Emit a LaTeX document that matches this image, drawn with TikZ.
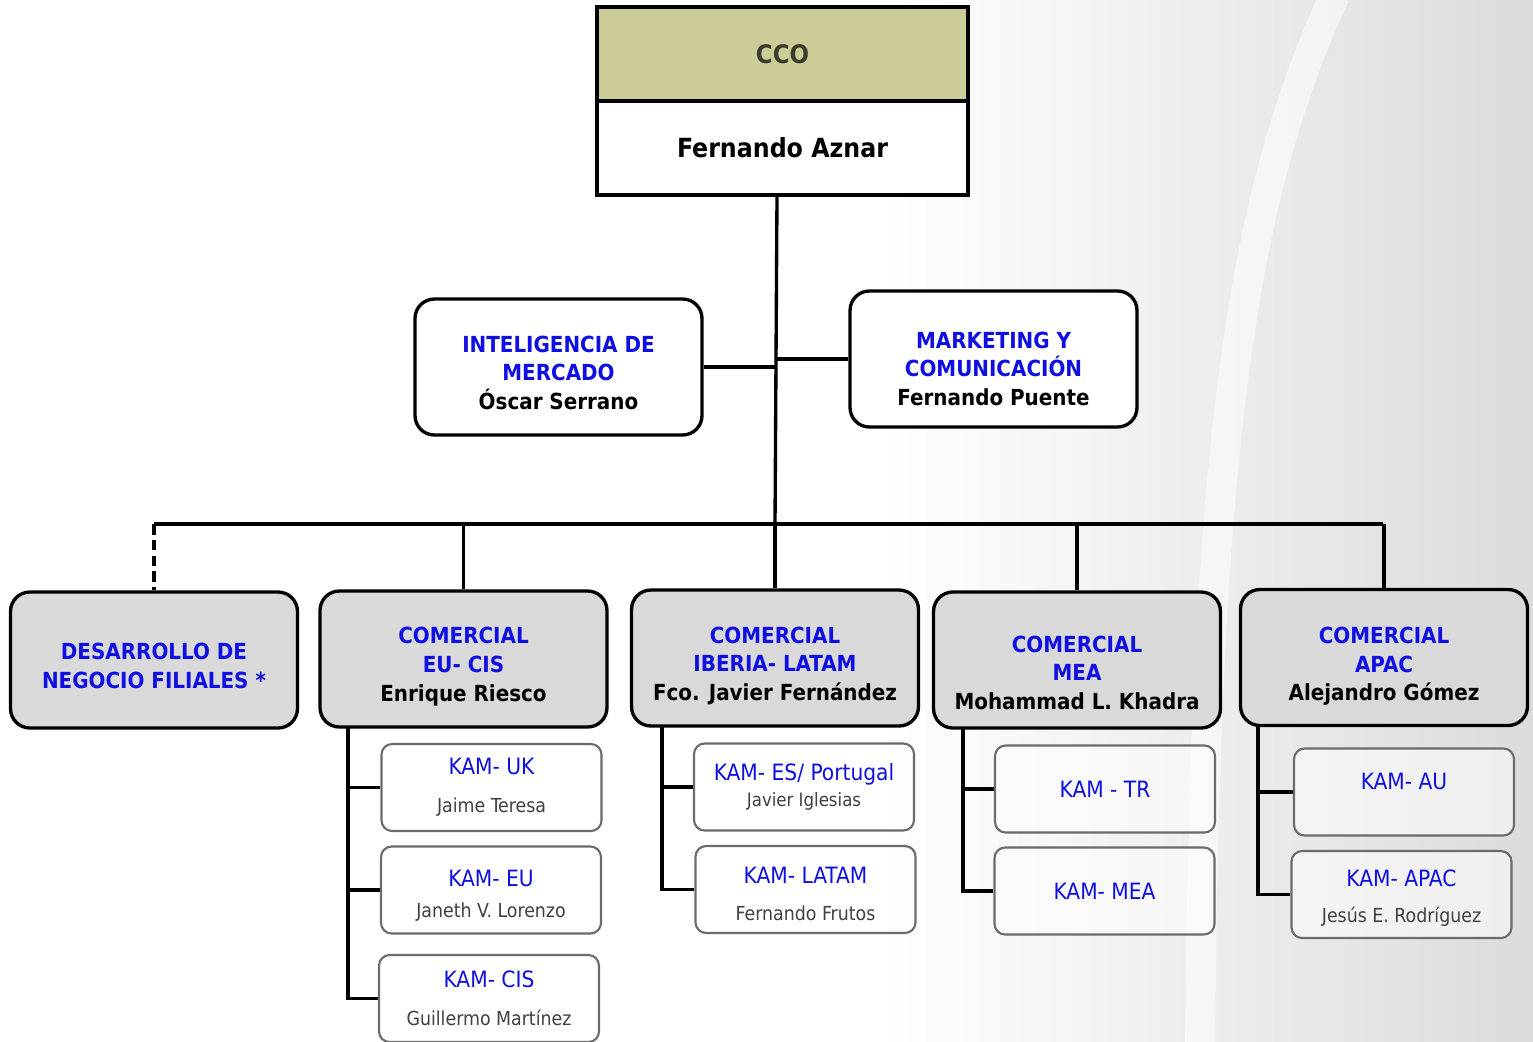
\documentclass[tikz,border=0pt]{standalone}
\usepackage{fontspec}
\setmainfont{DejaVu Sans Condensed}
\usetikzlibrary{calc}

\definecolor{kblue}{RGB}{15,15,225}
\definecolor{ccohead}{RGB}{204,204,153}
\definecolor{ccotext}{RGB}{60,60,45}
\definecolor{boxgray}{RGB}{217,217,217}
\definecolor{namegray}{RGB}{64,64,64}

\newcommand{\blu}[1]{\textcolor{kblue}{#1}}
\newcommand{\kamname}[1]{{\fontsize{11}{13}\selectfont\color{namegray}#1}}
\newcommand{\topgap}[1]{\rule{0pt}{#1}}

\tikzset{
  textup/.style={execute at end node={\rule[-#1]{0pt}{#1}}}
}

\begin{document}
\begin{tikzpicture}[x=0.02cm,y=-0.02cm]
\tikzstyle{head} = [draw=black, line width=1.9pt, minimum width=7.42cm, minimum height=1.88cm, inner sep=0pt]
\tikzstyle{unit} = [draw=black, line width=1.9pt, rounded corners=11pt, minimum width=5.74cm, minimum height=2.72cm, align=center, inner sep=0pt, font=\bfseries\fontsize{12.6}{16.4}\selectfont]
\tikzstyle{dept} = [unit, fill=boxgray]
\tikzstyle{kam} = [draw=black!58, line width=1.2pt, rounded corners=6pt, fill=white, fill opacity=0.55, text opacity=1, minimum width=4.4cm, minimum height=1.74cm, align=center, inner sep=0pt, font=\fontsize{12.8}{15}\selectfont]
\tikzstyle{edge} = [draw=black, line width=1.9pt]

\useasboundingbox (0,0) rectangle (1533,1041);

% faded background photo
\shade[left color=white, right color=black!14] (880,0) rectangle (1533,1041);
\draw[white, line width=17pt, opacity=0.55] (1335,-5) .. controls (1240,200) and (1205,450) .. (1200,1050);

% top
\node[head, fill=ccohead, text=ccotext, font=\bfseries\fontsize{14.5}{17}\selectfont] (cco) at (782.5,54) {CCO};
\node[head, fill=white, font=\bfseries\fontsize{15}{18}\selectfont] (cconame) at (782.5,148) {Fernando Aznar};

\node[unit, fill=white] (ime) at (558.5,367) {\topgap{16pt}\blu{INTELIGENCIA DE}\\\blu{MERCADO}\\Óscar Serrano};
\node[unit, fill=white] (mkt) at (993.5,359) {\topgap{20.5pt}\blu{MARKETING Y}\\\blu{COMUNICACIÓN}\\Fernando Puente};

% departments
\node[dept] (dnf) at (154,660) {\topgap{16pt}\blu{DESARROLLO DE}\\\blu{NEGOCIO FILIALES *}};
\node[dept] (eucis) at (463.5,659) {\topgap{18.3pt}\blu{COMERCIAL}\\\blu{EU- CIS}\\Enrique Riesco};
\node[dept] (iblat) at (775,658) {\topgap{18.3pt}\blu{COMERCIAL}\\\blu{IBERIA- LATAM}\\Fco. Javier Fernández};
\node[dept] (mea) at (1077,660) {\topgap{24pt}\blu{COMERCIAL}\\\blu{MEA}\\Mohammad L. Khadra};
\node[dept] (apac) at (1384,657.5) {\topgap{19.4pt}\blu{COMERCIAL}\\\blu{APAC}\\Alejandro Gómez};

% key accounts
\node[kam] (kamuk) at (491.5,787.5) {\blu{KAM- UK}\\[6.5pt]\kamname{Jaime Teresa}};
\node[kam] (kameu) at (491,890) {\topgap{15.9pt}\blu{KAM- EU}\\[2.6pt]\kamname{Janeth V. Lorenzo}};
\node[kam] (kamcis) at (489,998.5) {\blu{KAM- CIS}\\[6.5pt]\kamname{Guillermo Martínez}};
\node[kam] (kamesp) at (804,787) {\blu{KAM- ES/ Portugal}\\{\fontsize{10.5}{12}\selectfont\color{namegray}Javier Iglesias}};
\node[kam] (kamlat) at (805.5,889.5) {\topgap{14.2pt}\blu{KAM- LATAM}\\[6pt]\kamname{Fernando Frutos}};
\node[kam] (kamtr) at (1105,789) {\blu{KAM - TR}};
\node[kam] (kammea) at (1104.5,891) {\blu{KAM- MEA}};
\node[kam, textup=12.7pt] (kamau) at (1404,792) {\blu{KAM- AU}};
\node[kam] (kamapac) at (1401.5,894.5) {\topgap{13.6pt}\blu{KAM- APAC}\\[5.5pt]\kamname{Jesús E. Rodríguez}};

\coordinate (trunktop) at (777,195);
\coordinate (trunk) at (775,524);
\coordinate (busL) at (154,524);
\coordinate (busR) at (1383,524);
\coordinate (sp1) at (348,727);
\coordinate (sp2) at (662,726);
\coordinate (sp3) at (963,728);
\coordinate (sp4) at (1258,725);

% links
\draw[edge] (trunktop) -- (trunk);
\draw[edge] (ime.east) -- (ime.east -| trunk);
\draw[edge] (mkt.west) -- (mkt.west -| trunk);
\draw[edge] (busL) -- (busR);
\draw[edge, dash pattern=on 6pt off 3pt] (busL) -- (dnf.north);
\draw[edge] (eucis.north |- busL) -- (eucis.north);
\draw[edge] (iblat.north |- busL) -- (iblat.north);
\draw[edge] (mea.north |- busL) -- (mea.north);
\draw[edge] (apac.north |- busL) -- (apac.north);

\draw[edge] (sp1) |- (kamcis.west);
\draw[edge] (sp1 |- kamuk.west) -- (kamuk.west);
\draw[edge] (sp1 |- kameu.west) -- (kameu.west);
\draw[edge] (sp2) |- (kamlat.west);
\draw[edge] (sp2 |- kamesp.west) -- (kamesp.west);
\draw[edge] (sp3) |- (kammea.west);
\draw[edge] (sp3 |- kamtr.west) -- (kamtr.west);
\draw[edge] (sp4) |- (kamapac.west);
\draw[edge] (sp4 |- kamau.west) -- (kamau.west);
\end{tikzpicture}
\end{document}
